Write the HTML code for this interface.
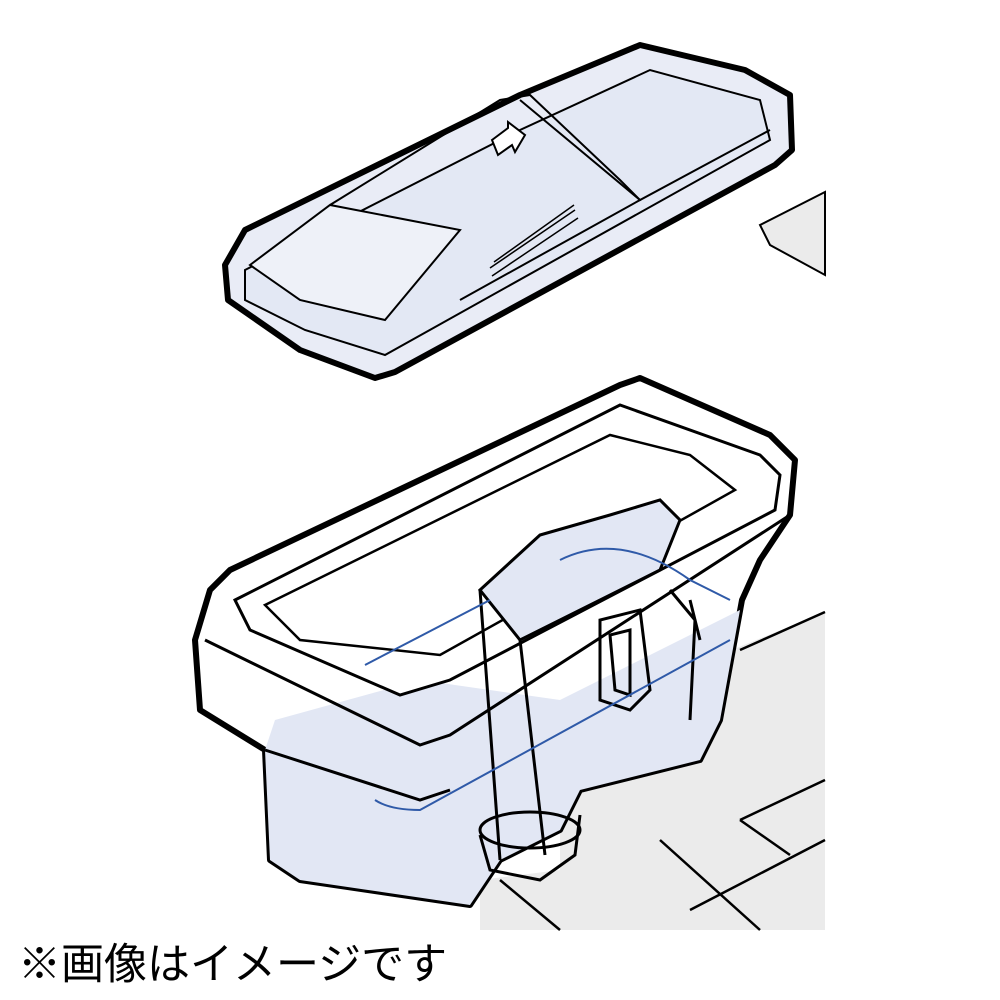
<!DOCTYPE html>
<html><head><style>
html,body{margin:0;padding:0;background:#fff;width:1000px;height:1000px;overflow:hidden}
.t{position:absolute;left:18px;top:930px;font:43px "Liberation Sans","Noto Sans CJK JP",sans-serif;color:#000;white-space:nowrap}
</style></head><body>
<svg width="1000" height="1000" style="position:absolute;left:0;top:0">
<polygon points="560,720 825,612 825,930 480,930 480,880 560,870" fill="#ebebeb"/>
<polygon points="760,225 825,192 825,275 770,245" fill="#ebebeb" stroke="#000" stroke-width="2"/>
<g fill="none" stroke="#000" stroke-width="2.5">
<polyline points="740,650 825,612"/>
<polyline points="690,910 825,840"/>
<polyline points="740,820 825,780"/>
<polyline points="740,820 790,855"/>
<polyline points="500,880 560,930"/>
<polyline points="660,840 760,930"/>
</g>
<path d="M225,265 L245,230 L520,95 L640,45 L745,70 L790,95 L792,150 L775,165 L395,372 L375,378 L300,350 L228,300 Z" fill="#e9ecf6" stroke="#000" stroke-width="6" stroke-linejoin="round"/>
<path d="M245,270 L520,130 L650,70 L760,100 L770,140 L385,355 L305,330 L245,300 Z" fill="#e3e8f4" stroke="#000" stroke-width="2"/>
<path d="M250,265 L330,205 L460,230 L385,320 L300,300 Z" fill="#eef1f8" stroke="#000" stroke-width="2"/>
<path d="M330,205 L500,100 L530,95 L620,180 L640,200 L460,300" fill="none" stroke="#000" stroke-width="2"/>
<path d="M520,100 L640,200 L770,130" fill="none" stroke="#000" stroke-width="2"/>
<g stroke="#000" stroke-width="1.5">
<line x1="490" y1="268" x2="575" y2="210"/><line x1="492" y1="276" x2="578" y2="218"/><line x1="494" y1="262" x2="574" y2="205"/>
</g>
<path d="M492,140 L508,128 L508,122 L525,135 L515,152 L512,145 L498,155 Z" fill="#fff" stroke="#000" stroke-width="2"/>
<path d="M230,570 L620,385 L640,378 L770,435 L795,460 L790,515 L760,560 L742,600 L720,720 L700,760 L580,790 L560,830 L500,860 L470,905 L300,880 L270,860 L265,750 L200,710 L195,640 L210,590 Z" fill="#fff" stroke="#000" stroke-width="6" stroke-linejoin="round"/>
<path d="M275,720 L420,680 L560,700 L740,610 L720,720 L700,760 L580,790 L560,830 L500,860 L470,905 L300,880 L270,860 L265,750 Z" fill="#e2e7f4"/>
<path d="M235,600 L620,405 L760,455 L780,475 L775,510 L450,680 L400,695 L250,630 Z" fill="#fff" stroke="#000" stroke-width="3"/>
<path d="M265,605 L610,435 L690,455 L735,490 L440,655 L300,640 Z" fill="#fff" stroke="#000" stroke-width="2.5"/>
<g fill="none" stroke="#000" stroke-width="3">
<path d="M205,640 L420,745 L450,735 L790,515"/>
<path d="M265,750 L420,800 L450,790"/>
<path d="M480,590 L540,535 L610,515 L660,500 L680,520 L660,570 L520,640 Z" fill="#e2e7f4"/>
<path d="M480,590 L500,860 M520,640 L545,855"/>
<path d="M600,620 L600,700 L630,710 L650,690 L640,610 Z"/>
<path d="M610,635 L615,690 L630,695 L630,630 Z"/>
<path d="M670,590 L695,620 L690,720 M690,600 L700,640"/>
<ellipse cx="530" cy="830" rx="50" ry="18"/>
<path d="M480,835 L490,870 L540,880 L575,855 L580,815"/>
</g>
<g fill="none" stroke="#2f5aa8" stroke-width="2">
<path d="M365,665 L490,600"/>
<path d="M560,560 Q620,530 690,580 L730,600"/>
<path d="M375,800 Q390,810 420,810 L730,640"/>
</g>
</svg>
<div class="t">※画像はイメージです</div>
</body></html>
